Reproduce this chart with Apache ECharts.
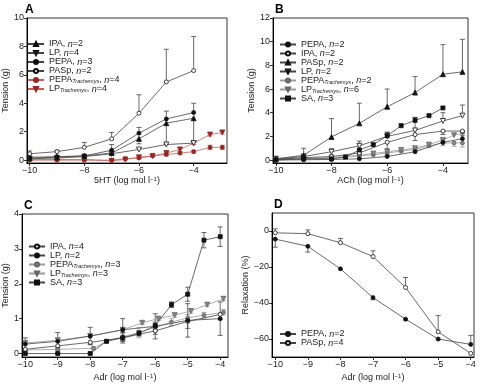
<!DOCTYPE html>
<html>
<head>
<meta charset="utf-8">
<script src="https://cdn.jsdelivr.net/npm/echarts@6/dist/echarts.min.js"></script>
<style>html,body{margin:0;padding:0;background:#fff}#main{width:480px;height:386px}</style>
</head>
<body>
<div id="main"></div>
<script>
// A: 5HT
var xA = [-10, -9, -8, -7, -6, -5, -4];
var xAT = [-10, -9, -8, -7, -6.5, -6, -5.5, -5, -4.5, -4, -3.4, -2.95];
var aIPA = [0.15, 0.2, 0.3, 0.5, 1.5, 2.6, 2.95];
var aIPAe = [-0.05, -0.05, -0.05, -0.1, -0.35, -1.5, -1.7];
var aLP = [0.1, 0.15, 0.25, 0.45, 0.75, 1.1, 1.2];
var aLPe = [0.05, 0.05, 0.05, 0.05, 0.1, 0.15, 0.15];
var aPEPA = [0.2, 0.25, 0.3, 0.7, 1.9, 2.9, 3.35];
var aPEPAe = [0.05, 0.05, 0.05, 0.4, 0.4, 0.55, 0.65];
var aPASp = [0.45, 0.6, 0.9, 1.5, 3.3, 5.5, 6.3];
var aPASpe = [0.2, 0.1, 0.35, 0.45, 1.3, 2.3, 2.4];
var aPEPAT = [0, 0, 0, 0, 0.1, 0.15, 0.3, 0.4, 0.5, 0.6, 0.9, 0.9];
var aPEPATe = [0.05, 0.05, 0.05, 0.05, 0.05, 0.05, 0.05, 0.1, 0.1, 0.1, 0.15, 0.15];
var aLPT = [0.05, 0.05, 0.05, -0.05, 0.05, 0.2, 0.3, 0.5, 0.75, 1.2, 1.8, 1.95];
var aLPTe = [0.05, 0.05, 0.05, 0.05, 0.05, 0.05, 0.05, 0.1, 0.15, 0.1, 0.1, 0.12];

// B: ACh
var xB = [-10, -9, -8, -7, -6, -5, -4, -3.3];
var xBT = [-10, -9, -8, -7, -6.5, -6, -5.5, -5, -4.5, -4, -3.6, -3.3];
var xBS = [-10, -9, -8, -7.5, -7, -6.5, -6, -5.5, -5, -4.5, -4];
var bPEPA = [0, 0.02, 0.05, 0.1, 0.3, 0.7, 1.5, 1.8];
var bPEPAe = [0.03, 0.03, 0.03, 0.05, 0.1, 0.15, 0.2, 0.25];
var bIPA = [0.05, 0.2, 0.3, 0.6, 1.5, 2.15, 2.45, 2.45];
var bIPAe = [-0.03, -0.05, -0.1, -0.15, -0.55, -0.5, -0.3, -0.2];
var bPASp = [0.1, 0.4, 1.95, 3.1, 4.5, 5.7, 7.25, 7.45];
var bPASpe = [0.05, 0.6, 1.55, 1.7, 1.5, 1.35, 2.5, 2.75];
var bLP = [0.1, 0.3, 0.7, 1.2, 2.0, 2.5, 3.3, 3.75];
var bLPe = [0.05, 0.1, 0.25, 0.4, 0.35, 1.1, 0.7, 0.9];
var bPEPAT = [0.05, 0.08, 0.15, 0.35, 0.45, 0.6, 0.75, 0.9, 1.2, 1.45, 1.45, 1.45];
var bPEPATe = [-0.02, -0.03, -0.05, -0.05, -0.05, -0.1, -0.05, -0.1, -0.1, -0.25, -0.3, -0.35];
var bLPT = [0.1, 0.12, 0.22, 0.4, 0.55, 0.7, 0.85, 1.0, 1.3, 1.7, 2.1, 2.25];
var bLPTe = [0.03, 0.03, 0.05, 0.05, 0.05, 0.05, 0.05, 0.05, 0.08, 0.1, 0.1, 0.12];
var bSA = [0, 0.1, 0.1, 0.25, 0.85, 1.3, 2.05, 2.9, 3.35, 3.75, 4.4];
var bSAe = [0.03, 0.05, 0.05, 0.05, 0.1, 0.1, 0.3, 0.15, 0.25, 0.1, 0.1];

// C: Adr contraction
var xC = [-10, -9, -8, -7, -6, -5, -4];
var xCT = [-10, -9, -7.9, -7.5, -7, -6.5, -6, -5.5, -5, -4.5, -3.9];
var xCL = [-10, -9, -8, -7, -6.4, -5.9, -5.4, -4.9, -4.4, -3.9];
var xCS = [-10, -9, -8, -7.5, -7, -6.5, -6, -5.5, -5, -4.5, -4];
var cIPA = [0.12, 0.22, 0.32, 0.45, 0.65, 0.92, 1.12];
var cIPAe = [-0.04, -0.05, -0.05, -0.1, -0.1, -0.2, -0.15];
var cLP = [0.27, 0.35, 0.5, 0.68, 0.78, 0.95, 1.0];
var cLPe = [0.18, 0.25, 0.25, 0.32, 0.36, 0.48, 0.48];
var cPEPAT = [0.1, 0.12, 0.15, 0.35, 0.48, 0.6, 0.75, 0.9, 1.02, 1.1, 1.18];
var cPEPATe = [0.03, 0.03, 0.05, 0.05, 0.1, 0.15, 0.1, 0.1, 0.1, 0.08, 0.08];
var cLPT = [0.3, 0.38, 0.5, 0.68, 0.88, 1.0, 1.1, 1.22, 1.4, 1.57];
var cLPTe = [0.05, 0.05, 0.05, 0.05, 0.05, 0.05, 0.06, 0.06, 0.06, 0.06];
var cSA = [0, 0, 0, 0.35, 0.45, 0.58, 0.8, 1.4, 1.7, 3.25, 3.35];
var cSAe = [0.02, 0.02, 0.02, 0.03, 0.15, 0.08, 0.1, 0.08, 0.2, 0.22, 0.28];

// D: Adr relaxation
var xD = [-10, -9, -8, -7, -6, -5, -4];
var dPEPA = [-4.5, -8.5, -21, -37, -49, -60, -63];
var dPEPAe = [-4.5, -3.2, -0.5, -1.2, -0.5, -0.5, 5];
var dPASp = [-1, -1.5, -6.5, -14.2, -31.4, -56, -68];
var dPASpe = [2.2, 2.1, 2.4, 3.2, 5.6, 9, 0];

var FONT = 'Liberation Sans';
var BLK = '#111', LINE = '#444', GRY = '#858585', GRYL = '#9a9a9a', RED = '#8e2a2a', REDL = '#c8605a';

var marks = {
    fc: {symbol: 'circle', size: 4, fill: BLK, stroke: BLK, line: LINE},
    oc: {symbol: 'circle', size: 4, fill: '#fff', stroke: BLK, line: LINE},
    ft: {symbol: 'triangle', size: 5, fill: BLK, stroke: BLK, line: LINE},
    ot: {symbol: 'triangle', size: 5, rot: 180, fill: '#fff', stroke: BLK, line: LINE},
    sq: {symbol: 'rect', size: 4, fill: BLK, stroke: BLK, line: LINE},
    gc: {symbol: 'circle', size: 4, fill: GRY, stroke: '#666', line: GRYL},
    gt: {symbol: 'triangle', size: 5, rot: 180, fill: GRY, stroke: '#666', line: GRYL},
    rc: {symbol: 'circle', size: 4, fill: RED, stroke: RED, line: REDL},
    rt: {symbol: 'triangle', size: 5, rot: 180, fill: RED, stroke: RED, line: REDL}
};

function errBar(params, api) {
    var x = api.value(0), y = api.value(1), e = api.value(2), both = api.value(3);
    if (!e) return null;
    var p0 = api.coord([x, both ? y - e : y]);
    var p1 = api.coord([x, y + e]);
    var st = {stroke: api.visual('color'), lineWidth: 0.8};
    var kids = [
        {type: 'line', shape: {x1: p0[0], y1: p0[1], x2: p1[0], y2: p1[1]}, style: st},
        {type: 'line', shape: {x1: p1[0] - 2.5, y1: p1[1], x2: p1[0] + 2.5, y2: p1[1]}, style: st}
    ];
    if (both) kids.push({type: 'line', shape: {x1: p0[0] - 2.5, y1: p0[1], x2: p0[0] + 2.5, y2: p0[1]}, style: st});
    return {type: 'group', children: kids};
}

var series = [];
var names = {};
function add(p, key, label, xs, ys, errs, both, mk) {
    var m = marks[mk];
    series.push({
        type: 'custom', xAxisIndex: p, yAxisIndex: p, z: 2, silent: true,
        itemStyle: {color: m.line},
        data: xs.map(function (x, i) { return [x, ys[i], errs[i], both ? 1 : 0]; }),
        renderItem: errBar
    });
    series.push({
        name: key, type: 'line', xAxisIndex: p, yAxisIndex: p, z: 3,
        data: xs.map(function (x, i) { return [x, ys[i]]; }),
        symbol: m.symbol, symbolSize: m.size, symbolRotate: m.rot || 0,
        itemStyle: {color: m.fill, borderColor: m.stroke, borderWidth: 0.8},
        lineStyle: {color: m.line, width: 0.8}
    });
    names[key] = label;
}

add(0, 'aLPT', 'LP{s|Trachemys}, {i|n}=4', xAT, aLPT, aLPTe, true, 'rt');
add(0, 'aPEPAT', 'PEPA{s|Trachemys}, {i|n}=4', xAT, aPEPAT, aPEPATe, true, 'rc');
add(0, 'aLP', 'LP, {i|n}=4', xA, aLP, aLPe, false, 'ot');
add(0, 'aIPA', 'IPA, {i|n}=2', xA, aIPA, aIPAe, false, 'ft');
add(0, 'aPEPA', 'PEPA, {i|n}=3', xA, aPEPA, aPEPAe, false, 'fc');
add(0, 'aPASp', 'PASp, {i|n}=2', xA, aPASp, aPASpe, false, 'oc');

add(1, 'bPEPAT', 'PEPA{s|Trachemys}, {i|n}=2', xBT, bPEPAT, bPEPATe, false, 'gc');
add(1, 'bLPT', 'LP{s|Trachemys}, {i|n}=6', xBT, bLPT, bLPTe, false, 'gt');
add(1, 'bPEPA', 'PEPA, {i|n}=2', xB, bPEPA, bPEPAe, false, 'fc');
add(1, 'bIPA', 'IPA, {i|n}=2', xB, bIPA, bIPAe, false, 'oc');
add(1, 'bLP', 'LP, {i|n}=2', xB, bLP, bLPe, false, 'ot');
add(1, 'bSA', 'SA, {i|n}=3', xBS, bSA, bSAe, false, 'sq');
add(1, 'bPASp', 'PASp, {i|n}=2', xB, bPASp, bPASpe, false, 'ft');

add(2, 'cPEPAT', 'PEPA{s|Trachemys}, {i|n}=3', xCT, cPEPAT, cPEPATe, true, 'gc');
add(2, 'cLPT', 'LP{s|Trachemys}, {i|n}=3', xCL, cLPT, cLPTe, true, 'gt');
add(2, 'cIPA', 'IPA, {i|n}=4', xC, cIPA, cIPAe, false, 'oc');
add(2, 'cLP', 'LP, {i|n}=2', xC, cLP, cLPe, true, 'fc');
add(2, 'cSA', 'SA, {i|n}=3', xCS, cSA, cSAe, true, 'sq');

add(3, 'dPEPA', 'PEPA, {i|n}=2', xD, dPEPA, dPEPAe, false, 'fc');
add(3, 'dPASp', 'PASp, {i|n}=4', xD, dPASp, dPASpe, false, 'oc');

var grids = [
    {left: 23, top: 18, width: 204, height: 145},
    {left: 273, top: 18, width: 195, height: 145},
    {left: 22, top: 214, width: 206, height: 143},
    {left: 272, top: 213, width: 202, height: 144}
];
var xRange = [[-10.1, -2.78], [-10.1, -3.1], [-10.1, -3.76], [-10.1, -3.9]];
var yRange = [[-0.2, 10], [-0.25, 12], [-0.1, 4], [-70, 10]];
var xTicks = [[-10, -8, -6, -4], [-10, -8, -6, -4], [-10, -9, -8, -7, -6, -5, -4], [-10, -9, -8, -7, -6, -5, -4]];
var yTicks = [[0, 2, 4, 6, 8, 10], [0, 2, 4, 6, 8, 10, 12], [0, 1, 2, 3, 4], [-60, -40, -20, 0]];
var xNames = ['5HT (log mol l{p|\u22121})', 'ACh (log mol l{p|\u22121})', 'Adr (log mol l{p|\u22121})', 'Adr (log mol l{p|\u22121})'];
var yNames = ['Tension (g)', 'Tension (g)', 'Tension (g)', 'Relaxation (%)'];
var letters = ['A', 'B', 'C', 'D'];
var legendOrder = [
    ['aIPA', 'aLP', 'aPEPA', 'aPASp', 'aPEPAT', 'aLPT'],
    ['bPEPA', 'bIPA', 'bPASp', 'bLP', 'bPEPAT', 'bLPT', 'bSA'],
    ['cIPA', 'cLP', 'cPEPAT', 'cLPT', 'cSA'],
    ['dPEPA', 'dPASp']
];
var legendPos = [[27, 39.5], [279, 40], [28, 242], [279, 329.5]];

function minus(v) { return String(v).replace('-', '\u2212'); }
var axLine = {show: true, onZero: false, lineStyle: {color: '#000', width: 1}};
var supRich = {p: {fontSize: 6, fontFamily: FONT, verticalAlign: 'top', lineHeight: 6}};

var chart = echarts.init(document.getElementById('main'));
var option = {
    animation: false,
    textStyle: {fontFamily: FONT},
    title: letters.map(function (t, i) {
        return {text: t, left: grids[i].left + 2, top: grids[i].top - 14, padding: 0,
            textStyle: {fontSize: 12, fontWeight: 'bold', color: '#000', fontFamily: FONT}};
    }),
    grid: grids.map(function (g) {
        return {left: g.left, top: g.top, width: g.width, height: g.height, show: true,
            borderColor: '#333', borderWidth: 1, backgroundColor: 'transparent'};
    }),
    xAxis: grids.map(function (g, i) {
        return {type: 'value', gridIndex: i, min: xRange[i][0], max: xRange[i][1],
            splitLine: {show: false}, axisLine: axLine,
            axisTick: {length: 3, lineStyle: {color: '#000', width: 0.8}, customValues: xTicks[i]},
            axisLabel: {customValues: xTicks[i], formatter: minus, fontSize: 9, color: '#222', margin: 3},
            name: xNames[i], nameLocation: 'middle', nameGap: i < 2 ? 13 : 16,
            nameTextStyle: {fontSize: 9, color: '#222', rich: supRich}};
    }),
    yAxis: grids.map(function (g, i) {
        return {type: 'value', gridIndex: i, min: yRange[i][0], max: yRange[i][1],
            splitLine: {show: false}, axisLine: axLine,
            axisTick: {length: 3, lineStyle: {color: '#000', width: 0.8}, customValues: yTicks[i]},
            axisLabel: {customValues: yTicks[i], formatter: minus, fontSize: 9, color: '#222', margin: 3},
            name: yNames[i], nameLocation: 'middle', nameGap: i < 3 ? 12 : 16,
            nameTextStyle: {fontSize: 9, color: '#222'}};
    }),
    legend: legendOrder.map(function (d, i) {
        return {data: d, orient: 'vertical', left: legendPos[i][0], top: legendPos[i][1],
            padding: 0, itemGap: 0, itemWidth: 16, itemHeight: 5, selectedMode: false,
            formatter: function (n) { return names[n]; },
            textStyle: {fontSize: 9, color: '#222', lineHeight: 9, fontFamily: FONT,
                rich: {
                    i: {fontSize: 9, fontStyle: 'italic', fontFamily: FONT, lineHeight: 9},
                    s: {fontSize: 5.5, fontStyle: 'italic', fontFamily: FONT, lineHeight: 5, verticalAlign: 'bottom'}
                }}};
    }),
    series: series
};
chart.setOption(option);
</script>
</body>
</html>
